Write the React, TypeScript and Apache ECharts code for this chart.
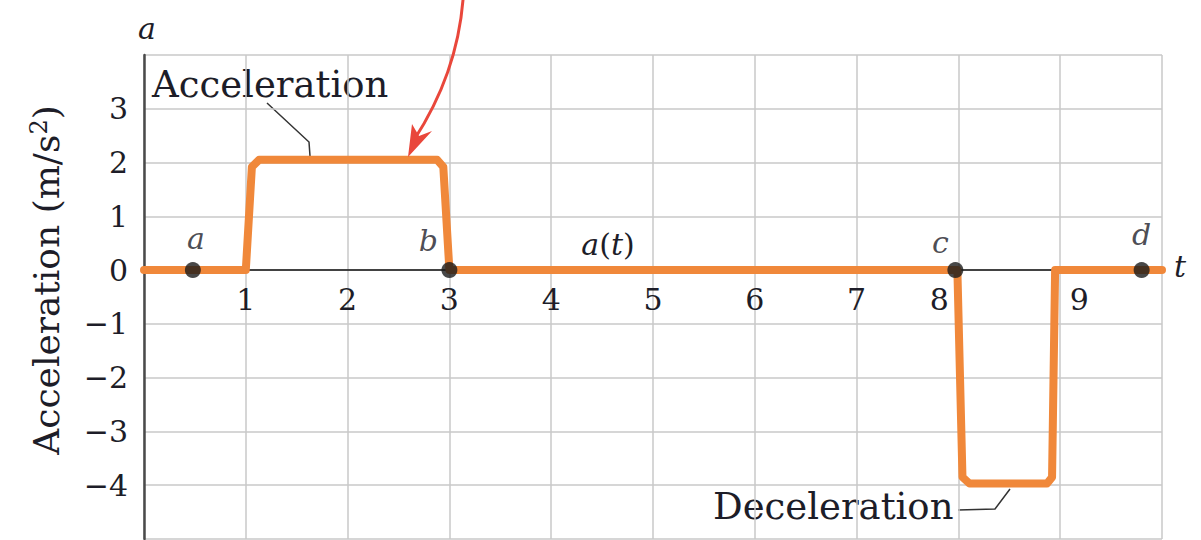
import React, { useEffect, useRef } from "react";
import * as echarts from "echarts";

// a(t) trace: time (s) and acceleration (m/s^2) at the corners of the curve
const timeValues = [0, 1, 1.06, 1.13, 2.88, 2.94, 3, 7.99, 8.04, 8.11, 8.87, 8.92, 8.95, 10];
const accelValues = [0, 0, 1.92, 2.05, 2.05, 1.92, 0, 0, -3.85, -3.97, -3.97, -3.85, 0, 0];

// time axis drawn through a = 0
const baselineTimes = [0, 10];
const baselineAccels = [0, 0];

// marked instants on the curve
const pointNames = ["a", "b", "c", "d"];
const pointTimes = [0.48, 3, 7.97, 9.8];
const pointAccels = [0, 0, 0, 0];

// tick labels
const xTickLabels = ["1", "2", "3", "4", "5", "6", "7", "8", "9"];
const yTickLabels = ["3", "2", "1", "0", "\u22121", "\u22122", "\u22123", "\u22124"];

const SERIF = "'DejaVu Serif', 'Liberation Serif', serif";
const INK = "#1d1d28";
const ORANGE = "#F0883A";
const GRID = "#c9c9c9";

const labelOffsets: Record<string, [number, number]> = {
  a: [3, -32],
  b: [-21, -30],
  c: [-15, -28],
  d: [0, -36],
};

export default function App() {
  const ref = useRef<HTMLDivElement>(null);

  useEffect(() => {
    if (!ref.current) return;
    const chart = echarts.init(ref.current, undefined, { renderer: "svg" });

    const pointData = pointNames.map((n, i) => ({
      name: n,
      value: [pointTimes[i], pointAccels[i]],
      label: { offset: labelOffsets[n] },
    }));

    chart.setOption({
      animation: false,
      backgroundColor: "#ffffff",
      grid: {
        left: 144,
        right: 39,
        top: 55,
        bottom: 1,
        containLabel: false,
        outerBoundsMode: "none",
      },
      xAxis: {
        type: "value",
        position: "bottom",
        min: 0,
        max: 10,
        interval: 1,
        // tick labels sit just under the a = 0 line
        offset: -269,
        axisLine: { show: false, onZero: false },
        axisTick: { show: false },
        splitLine: { show: true, lineStyle: { color: GRID, width: 1.5 } },
        axisLabel: {
          margin: 14,
          color: INK,
          fontFamily: SERIF,
          fontSize: 30,
          formatter: (v: number) => {
            if (Math.abs(v - Math.round(v)) > 1e-6) return "";
            const s = xTickLabels.find((t) => Number(t) === Math.round(v));
            if (!s) return "";
            if (s === "8") return "{l|8}";
            if (s === "9") return "{r|9}";
            return s;
          },
          rich: {
            l: { fontFamily: SERIF, fontSize: 30, color: INK, padding: [0, 38, 0, 0] },
            r: { fontFamily: SERIF, fontSize: 30, color: INK, padding: [0, 0, 0, 38] },
          },
        },
      },
      yAxis: {
        type: "value",
        min: -5,
        max: 4,
        interval: 1,
        axisLine: { show: true, onZero: false, lineStyle: { color: "#4a4a4a", width: 2.5 } },
        axisTick: { show: false },
        splitLine: { show: true, lineStyle: { color: GRID, width: 1.5 } },
        axisLabel: {
          margin: 16,
          color: INK,
          fontFamily: SERIF,
          fontSize: 30,
          formatter: (v: number) => {
            const r = Math.round(v);
            const s = r < 0 ? "\u2212" + Math.abs(r) : String(r);
            return yTickLabels.includes(s) ? s : "";
          },
        },
      },
      series: [
        {
          type: "line",
          data: baselineTimes.map((t, i) => [t, baselineAccels[i]]),
          symbol: "none",
          lineStyle: { color: "#111", width: 1.5 },
          silent: true,
          z: 2,
        },
        {
          type: "line",
          data: timeValues.map((t, i) => [t, accelValues[i]]),
          showSymbol: false,
          symbol: "none",
          lineStyle: { color: ORANGE, width: 8, join: "round", cap: "round" },
          z: 3,
        },
        {
          type: "scatter",
          data: pointData,
          symbol: "circle",
          symbolSize: 16,
          itemStyle: { color: "#1a1a1a" },
          label: {
            show: true,
            position: "inside",
            formatter: "{b}",
            fontFamily: SERIF,
            fontStyle: "italic",
            fontSize: 30,
            color: INK,
          },
          z: 4,
        },
      ],
      graphic: [
        // axis letters
        {
          type: "text",
          x: 147,
          y: 28,
          style: { text: "a", font: `italic 30px ${SERIF}`, fill: INK, align: "center", verticalAlign: "middle" },
        },
        {
          type: "text",
          x: 1180,
          y: 266,
          style: { text: "t", font: `italic 30px ${SERIF}`, fill: INK, align: "center", verticalAlign: "middle" },
        },
        // vertical axis title
        {
          type: "text",
          x: 46,
          y: 280,
          rotation: Math.PI / 2,
          style: {
            text: "Acceleration (m/s{sup|2})",
            font: `36px ${SERIF}`,
            fill: INK,
            align: "center",
            verticalAlign: "middle",
            rich: {
              sup: { fontFamily: SERIF, fontSize: 24, fill: INK, verticalAlign: "top", padding: [0, 0, 14, 0] },
            },
          },
        },
        // curve name
        {
          type: "text",
          x: 608,
          y: 244,
          style: {
            text: "{i|a}({i|t})",
            font: `30px ${SERIF}`,
            fill: INK,
            align: "center",
            verticalAlign: "middle",
            rich: {
              i: { fontFamily: SERIF, fontStyle: "italic", fontSize: 30, fill: INK },
            },
          },
        },
        // callouts
        {
          type: "text",
          x: 152,
          y: 84,
          style: { text: "Acceleration", font: `37px ${SERIF}`, fill: INK, align: "left", verticalAlign: "middle" },
        },
        {
          type: "polyline",
          shape: { points: [[267, 103], [309, 142], [310, 156]] },
          style: { stroke: "#333", lineWidth: 1.5, fill: null },
        },
        {
          type: "text",
          x: 713,
          y: 506,
          style: { text: "Deceleration", font: `37px ${SERIF}`, fill: INK, align: "left", verticalAlign: "middle" },
        },
        {
          type: "polyline",
          shape: { points: [[958, 510], [995, 509], [1010, 489]] },
          style: { stroke: "#333", lineWidth: 1.5, fill: null },
        },
        // red pointer arrow
        {
          type: "bezierCurve",
          shape: { x1: 463, y1: 0, cpx1: 457, cpy1: 74, x2: 414, y2: 140 },
          style: { stroke: "#e9473b", lineWidth: 3, fill: null },
          z: 10,
        },
        {
          type: "polygon",
          shape: { points: [[408, 157], [412, 124], [419, 136], [432, 131]] },
          style: { fill: "#e9473b" },
          z: 10,
        },
      ],
    });

    return () => chart.dispose();
  }, []);

  return (
    <div
      ref={ref}
      style={{ position: "fixed", left: 0, top: 0, width: 1201, height: 540, background: "#fff" }}
    />
  );
}
